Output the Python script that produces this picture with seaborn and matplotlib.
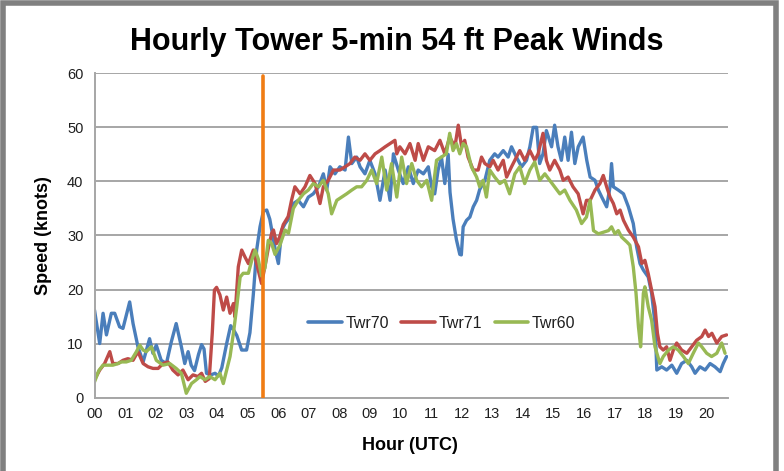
import matplotlib
matplotlib.use("Agg")
import matplotlib.pyplot as plt
import seaborn as sns
import pandas as pd
from matplotlib.lines import Line2D
from matplotlib.patches import Rectangle

# ---------------- data ----------------
series_names = ["Twr70", "Twr71", "Twr60"]
series_colors = ["#4A7EBB", "#BE4B48", "#98B954"]

hour_70 = [0.00, 0.17, 0.28, 0.39, 0.55, 0.66, 0.82, 0.93, 1.15, 1.26, 1.42, 1.59, 1.80, 1.91,
           2.02, 2.18, 2.35, 2.51, 2.67, 2.84, 2.95, 3.06, 3.16, 3.27, 3.40, 3.50, 3.58, 3.66,
           3.80, 3.94, 4.05, 4.16, 4.32, 4.45, 4.55, 4.65, 4.81, 4.97, 5.08, 5.19, 5.30, 5.41,
           5.52, 5.63, 5.73, 5.84, 5.92, 6.01, 6.12, 6.23, 6.39, 6.50, 6.66, 6.83, 6.99, 7.15,
           7.32, 7.48, 7.59, 7.70, 7.86, 8.02, 8.19, 8.30, 8.41, 8.57, 8.68, 8.84, 9.00, 9.17,
           9.33, 9.50, 9.66, 9.77, 9.93, 10.09, 10.26, 10.42, 10.58, 10.75, 10.91, 11.02, 11.12,
           11.23, 11.34, 11.45, 11.56, 11.62, 11.72, 11.83, 11.94, 11.99, 12.05, 12.16, 12.27,
           12.38, 12.49, 12.59, 12.76, 12.92, 13.08, 13.19, 13.36, 13.52, 13.63, 13.79, 13.96,
           14.12, 14.23, 14.34, 14.45, 14.55, 14.66, 14.77, 14.94, 15.04, 15.15, 15.26, 15.37,
           15.48, 15.59, 15.70, 15.81, 15.97, 16.09, 16.20, 16.36, 16.47, 16.58, 16.74, 16.85,
           16.90, 16.96, 17.12, 17.29, 17.45, 17.61, 17.72, 17.83, 17.94, 18.10, 18.21, 18.32,
           18.38, 18.54, 18.70, 18.87, 19.03, 19.19, 19.36, 19.52, 19.63, 19.79, 19.96, 20.12,
           20.28, 20.45, 20.55, 20.66]
speed_70 = [16.2, 10.0, 15.6, 11.6, 15.6, 15.6, 13.1, 12.8, 17.7, 13.7, 9.4, 6.6, 10.9, 8.2,
            9.7, 6.9, 6.3, 10.3, 13.7, 9.4, 6.3, 8.5, 6.0, 5.0, 8.0, 9.8, 9.0, 4.5,
            4.2, 4.5, 4.0, 5.5, 10.0, 13.3, 12.5, 11.5, 8.8, 8.8, 12.0, 19.0, 27.3, 31.6,
            34.5, 34.7, 33.0, 29.5, 27.0, 24.8, 31.0, 32.2, 33.4, 35.9, 36.5, 35.3, 37.1, 37.7,
            39.0, 41.4, 38.4, 42.7, 41.4, 42.7, 42.1, 48.2, 43.3, 44.5, 42.7, 41.4, 43.9, 41.4,
            36.5, 42.1, 36.5, 45.1, 42.1, 39.6, 42.7, 39.6, 42.1, 41.4, 42.7, 39.0, 37.7,
            42.1, 44.5, 39.6, 45.0, 38.0, 33.0, 29.2, 26.5, 26.4, 31.6, 32.8, 33.4,
            35.3, 36.5, 38.5, 40.2, 43.9, 45.1, 44.5, 45.7, 44.5, 46.4, 44.5, 42.7,
            43.9, 46.4, 50.0, 50.0, 43.3, 45.1, 49.4, 46.4, 50.4, 46.4, 43.9, 48.2,
            43.9, 49.1, 43.3, 46.4, 48.2, 43.9, 40.8, 40.2, 38.4, 37.1, 35.3, 39.0,
            43.3, 39.0, 38.4, 37.7, 35.3, 32.2, 27.9, 24.8, 23.6, 22.3, 19.3, 13.7,
            5.1, 5.7, 5.1, 6.0, 4.5, 6.3, 6.9, 5.7, 4.5, 5.7, 5.1, 6.3,
            5.7, 4.8, 6.3, 7.6]

hour_71 = [0.00, 0.17, 0.33, 0.50, 0.60, 0.77, 0.93, 1.09, 1.26, 1.42, 1.59, 1.75, 1.91, 2.08,
           2.24, 2.40, 2.56, 2.73, 2.89, 3.06, 3.22, 3.38, 3.50, 3.62, 3.75, 3.85, 3.92, 3.99,
           4.10, 4.21, 4.32, 4.43, 4.54, 4.59, 4.70, 4.81, 4.92, 5.03, 5.19, 5.30, 5.46, 5.57,
           5.68, 5.79, 5.85, 5.95, 6.05, 6.17, 6.33, 6.44, 6.55, 6.72, 6.88, 7.04, 7.21, 7.37,
           7.48, 7.64, 7.81, 8.02, 8.19, 8.35, 8.51, 8.68, 8.84, 9.00, 9.17, 9.33, 9.50, 9.66,
           9.82, 9.88, 9.98, 10.15, 10.31, 10.48, 10.58, 10.75, 10.91, 11.12, 11.29, 11.45,
           11.61, 11.78, 11.89, 12.00, 12.10, 12.21, 12.38, 12.54, 12.65, 12.76, 12.92, 13.03,
           13.19, 13.36, 13.47, 13.63, 13.79, 13.90, 14.06, 14.23, 14.39, 14.50, 14.66, 14.77,
           14.88, 15.04, 15.21, 15.32, 15.48, 15.64, 15.81, 15.97, 16.08, 16.20, 16.36, 16.52,
           16.63, 16.74, 16.85, 16.96, 17.07, 17.18, 17.29, 17.45, 17.61, 17.78, 17.89, 17.99,
           18.10, 18.21, 18.32, 18.40, 18.48, 18.59, 18.70, 18.81, 18.92, 19.03, 19.19, 19.36,
           19.52, 19.68, 19.85, 19.96, 20.07, 20.18, 20.34, 20.50, 20.66]
speed_71 = [3.3, 5.1, 6.3, 8.5, 6.3, 6.3, 6.9, 7.2, 6.9, 8.5, 6.3, 5.7, 5.4, 5.4,
            6.3, 6.6, 5.1, 4.2, 5.1, 3.3, 4.2, 3.9, 4.5, 3.0, 3.5, 12.0, 19.9, 20.4,
            19.0, 16.2, 18.6, 15.6, 17.4, 14.9, 24.2, 27.3, 26.0, 24.8, 27.3, 24.8, 21.1, 24.2,
            27.6, 30.4, 31.0, 28.5, 29.7, 32.0, 33.5, 36.5, 39.0, 37.7, 39.0, 41.1, 39.6, 35.9,
            39.0, 40.2, 42.1, 42.1, 42.7, 43.3, 44.5, 43.9, 45.1, 43.9, 45.1, 45.7, 46.4, 47.0,
            47.6, 45.1, 46.4, 45.1, 47.0, 43.9, 47.0, 43.9, 46.4, 45.7, 47.6, 45.1,
            48.2, 46.4, 50.4, 46.4, 47.6, 44.5, 42.1, 42.1, 44.5, 43.3, 42.7, 43.9,
            42.1, 43.9, 40.8, 42.7, 44.5, 45.7, 43.9, 45.7, 43.9, 45.1, 48.9, 43.9,
            42.1, 43.9, 42.1, 40.2, 40.8, 39.0, 37.7, 34.0, 36.5, 36.5, 38.4, 39.6,
            41.1, 39.0, 37.1, 35.9, 34.0, 34.7, 32.8, 31.0, 29.7, 27.9, 24.8, 25.4,
            22.9, 19.9, 16.8, 11.9, 9.4, 8.8, 9.4, 6.9, 8.8, 10.1, 8.8, 8.2,
            9.4, 10.6, 11.3, 12.5, 11.3, 11.9, 10.1, 11.3, 11.6]

hour_60 = [0.00, 0.14, 0.28, 0.44, 0.60, 0.77, 0.88, 1.04, 1.20, 1.37, 1.48, 1.59, 1.69, 1.86,
           2.02, 2.24, 2.46, 2.67, 2.84, 3.00, 3.17, 3.33, 3.45, 3.61, 3.77, 3.94, 4.10, 4.21,
           4.32, 4.43, 4.54, 4.65, 4.76, 4.86, 5.03, 5.14, 5.25, 5.35, 5.46, 5.57, 5.68, 5.79,
           5.90, 6.06, 6.23, 6.34, 6.50, 6.66, 6.83, 6.99, 7.15, 7.32, 7.48, 7.64, 7.75, 7.92,
           8.08, 8.24, 8.41, 8.57, 8.73, 8.90, 9.06, 9.22, 9.39, 9.55, 9.71, 9.88, 10.04, 10.20,
           10.37, 10.53, 10.69, 10.86, 11.02, 11.18, 11.34, 11.50, 11.61, 11.72, 11.83, 11.94,
           12.05, 12.16, 12.32, 12.49, 12.59, 12.70, 12.81, 12.92, 13.08, 13.25, 13.41, 13.57,
           13.74, 13.90, 14.06, 14.23, 14.39, 14.55, 14.72, 14.88, 15.04, 15.21, 15.37, 15.54,
           15.75, 15.92, 16.08, 16.20, 16.31, 16.47, 16.63, 16.80, 16.90, 17.01, 17.12, 17.23,
           17.40, 17.50, 17.61, 17.70, 17.78, 17.85, 17.94, 17.99, 18.10, 18.21, 18.32, 18.48,
           18.59, 18.76, 18.92, 19.08, 19.25, 19.41, 19.57, 19.74, 19.85, 20.01, 20.17, 20.34,
           20.50, 20.61]
speed_60 = [2.9, 5.0, 6.0, 6.0, 6.0, 6.3, 6.6, 6.6, 6.9, 8.5, 9.7, 8.8, 8.5, 9.4,
            6.9, 6.0, 6.3, 5.4, 4.5, 0.8, 2.6, 3.3, 3.9, 3.3, 3.9, 3.3, 4.5, 2.6,
            5.1, 7.6, 11.9, 16.8, 22.3, 23.0, 23.0, 25.4, 27.3, 25.7, 22.5, 24.0, 29.1, 28.5,
            26.5, 28.2, 31.0, 30.4, 35.0, 36.5, 37.7, 38.4, 39.6, 39.0, 40.2, 37.7, 34.0, 36.5,
            37.1, 37.7, 38.4, 39.0, 39.0, 40.2, 42.1, 39.6, 44.5, 38.4, 43.3, 37.1, 44.5, 39.6,
            43.3, 40.2, 39.0, 40.2, 36.5, 43.9, 44.5, 45.1, 48.9, 45.7, 47.0, 45.1,
            47.0, 46.4, 42.7, 40.8, 39.0, 40.2, 37.1, 42.1, 40.8, 39.6, 40.2, 37.7,
            41.4, 42.7, 39.6, 42.1, 43.6, 40.2, 41.4, 40.2, 39.0, 37.7, 38.4, 36.5,
            34.7, 32.2, 33.4, 36.5, 30.9, 30.3, 30.6, 30.9, 31.6, 30.3, 30.9, 29.7,
            28.8, 28.2, 24.2, 19.3, 13.1, 9.4, 19.3, 20.5, 16.8, 14.3, 9.4, 6.3,
            7.6, 8.8, 9.4, 8.8, 7.6, 6.3, 8.2, 10.1, 9.4, 8.2, 7.6, 8.2,
            10.1, 8.2]

hour_ticks = list(range(0, 21))
hour_labels = [f"{h:02d}" for h in hour_ticks]
speed_ticks = list(range(0, 61, 10))
marker_hour = 5.5

title_text = "Hourly Tower 5-min 54 ft Peak Winds"
x_label = "Hour (UTC)"
y_label = "Speed (knots)"

# ---------------- build long table ----------------
frames = []
for name, hrs, spd in zip(series_names,
                          [hour_70, hour_71, hour_60],
                          [speed_70, speed_71, speed_60]):
    frames.append(pd.DataFrame({"Hour": hrs, "Speed": spd, "Tower": name}))
df = pd.concat(frames, ignore_index=True)

# ---------------- styling ----------------
sns.set_theme(style="white")
plt.rcParams["font.family"] = ["Liberation Sans", "DejaVu Sans"]
plt.rcParams["lines.solid_joinstyle"] = "round"
plt.rcParams["lines.solid_capstyle"] = "round"

W, H = 784, 471
fig = plt.figure(figsize=(W / 100, H / 100), dpi=100)
fig.patch.set_facecolor("white")

x0, x1, ytop, ybot = 94.5, 727.5, 73.3, 397.6
ax = fig.add_axes([x0 / W, 1 - ybot / H, (x1 - x0) / W, (ybot - ytop) / H])

palette = dict(zip(series_names, series_colors))
sns.lineplot(data=df, x="Hour", y="Speed", hue="Tower", hue_order=series_names,
             palette=palette, linewidth=2.4, estimator=None, sort=True,
             legend=False, ax=ax)

ax.axvline(marker_hour, ymin=0, ymax=0.993, color="#F07C14", linewidth=2.6, zorder=5)

ax.set_xlim(0, 20.69)
ax.set_ylim(0, 60)
ax.set_xticks(hour_ticks)
ax.set_xticklabels(hour_labels)
ax.set_xticks([h + 0.5 for h in hour_ticks], minor=True)
ax.set_yticks(speed_ticks)
ax.set_yticklabels([str(v) for v in speed_ticks])

grid_c = "#a6a6a6"
ax.yaxis.grid(True, color=grid_c, linewidth=1.4)
ax.xaxis.grid(False)
ax.set_axisbelow(True)
for s in ["top", "right"]:
    ax.spines[s].set_visible(False)
for s in ["left", "bottom"]:
    ax.spines[s].set_color(grid_c)
    ax.spines[s].set_linewidth(1.4)

text_c = "#1f1f1f"
ax.tick_params(axis="x", which="both", direction="out", length=4, width=1.2,
               color=grid_c, labelsize=10.5, labelcolor=text_c, pad=3)
ax.tick_params(axis="y", which="major", direction="out", length=5, width=1.2,
               color=grid_c, labelsize=10.5, labelcolor=text_c, pad=3)

ax.set_xlabel(x_label, fontsize=13, fontweight="bold", color="black")
ax.set_ylabel(y_label, fontsize=13, fontweight="bold", color="black")
ax.xaxis.set_label_coords((410 - x0) / (x1 - x0), (ybot - 437) / (ybot - ytop))
ax.yaxis.set_label_coords((52 - x0) / (x1 - x0), 0.5)

handles = [Line2D([0], [0], color=c, linewidth=2.6) for c in series_colors]
ax.legend(handles, series_names, loc="center", bbox_to_anchor=(0.549, 0.23),
          ncol=3, frameon=False, fontsize=11.5, handlelength=2.1,
          handletextpad=0.25, columnspacing=0.75, labelcolor=text_c)

fig.text(397 / W, 1 - 42 / H, title_text, ha="center", va="center",
         fontsize=22, fontweight="bold", color="black")

# gray frame around the chart
frame = Rectangle((3 / W, -0.05), 773 / W, 1 - 3 / H + 0.05, transform=fig.transFigure,
                  fill=False, edgecolor="#808080", linewidth=4.0, zorder=10)
fig.patches.append(frame)

fig.savefig("out.png", dpi=100)
